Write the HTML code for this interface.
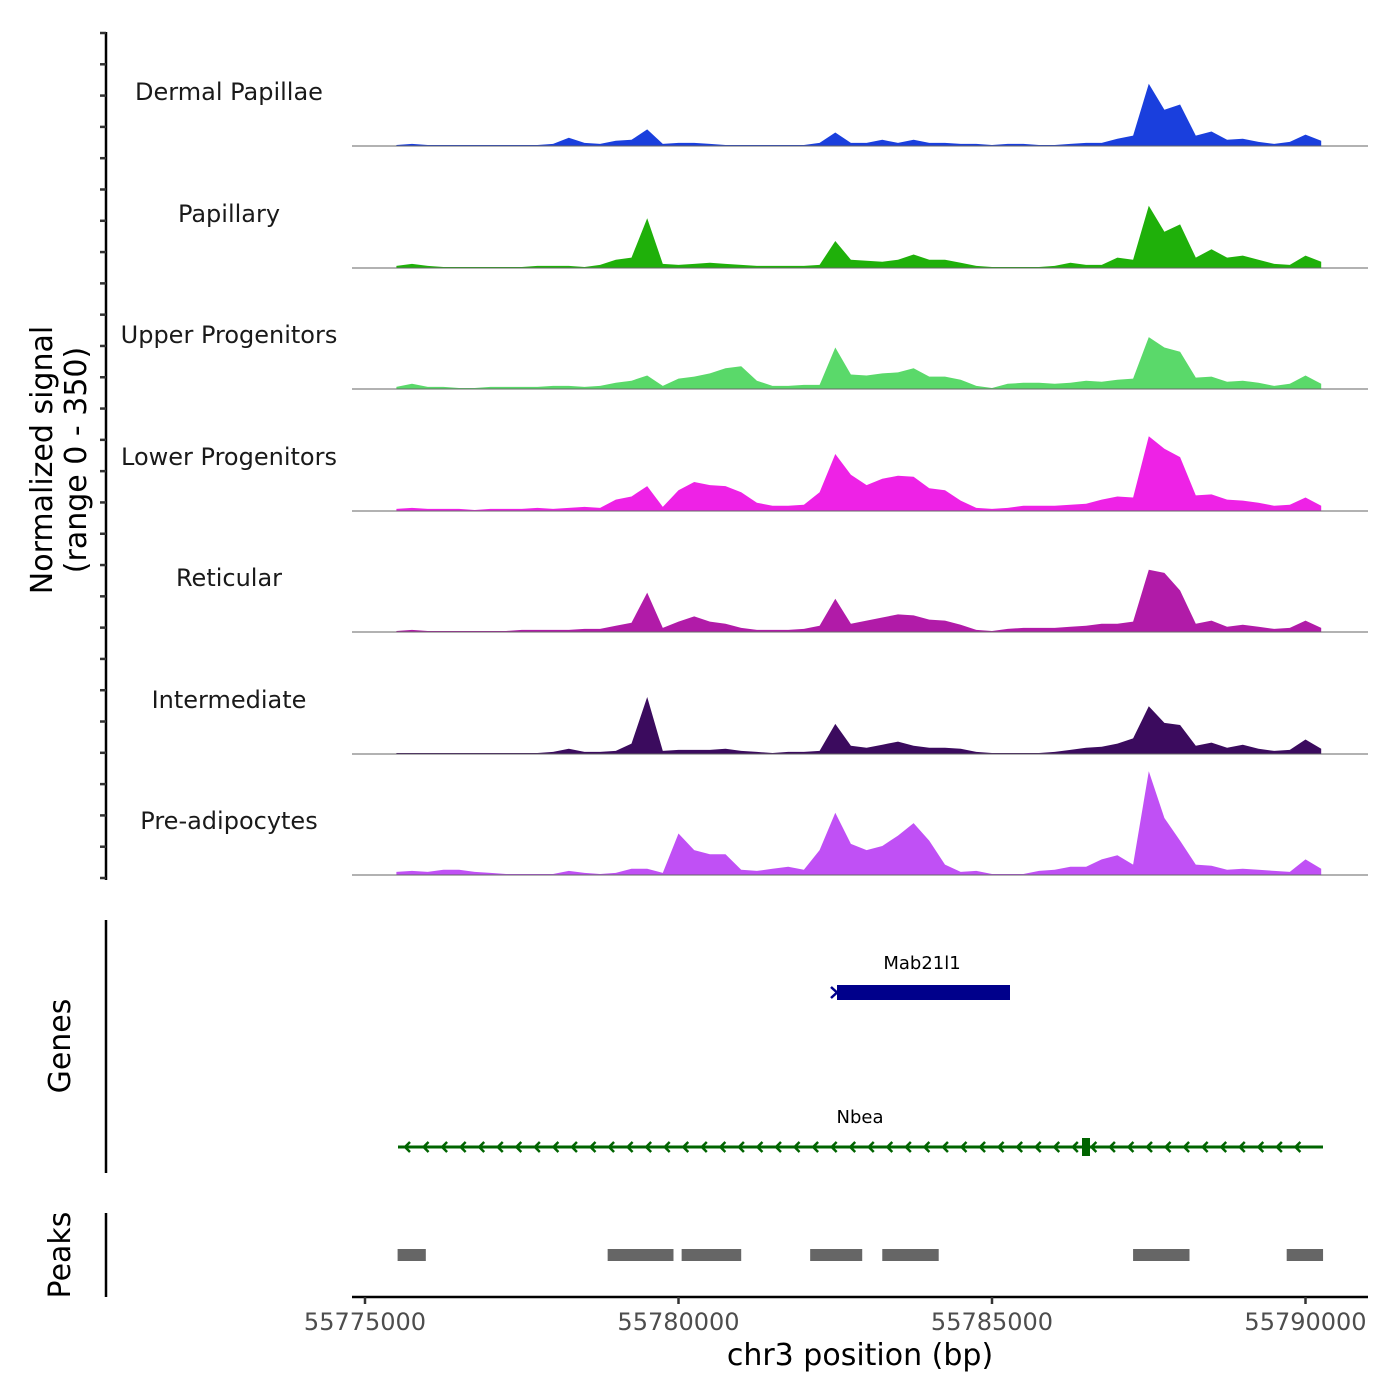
<!DOCTYPE html>
<html><head><meta charset="utf-8"><style>
html,body{margin:0;padding:0;background:#fff;}
svg{display:block;font-family:"DejaVu Sans","Liberation Sans",sans-serif;}
</style></head><body>
<svg id="chart" width="1400" height="1400" viewBox="0 0 1400 1400">
<g id="tracks"></g>
<g id="yaxis">
  <line x1="106" y1="32" x2="106" y2="880" stroke="#000" stroke-width="2.5"/>
</g>
<text transform="translate(52,460) rotate(-90)" text-anchor="middle" font-size="30">Normalized signal</text>
<text transform="translate(86,460) rotate(-90)" text-anchor="middle" font-size="30">(range 0 - 350)</text>

<g>
  <line x1="106" y1="920" x2="106" y2="1173" stroke="#000" stroke-width="2.5"/>
  <text transform="translate(70,1046) rotate(-90)" text-anchor="middle" font-size="30">Genes</text>
  <text x="922" y="969" text-anchor="middle" font-size="18">Mab21l1</text>
  <rect x="837" y="985" width="173" height="15" fill="#00008B"/>
  <polyline points="831,987 837,992.5 831,998" fill="none" stroke="#00008B" stroke-width="2.5"/>
  <text x="860" y="1123" text-anchor="middle" font-size="18">Nbea</text>
  <line x1="398" y1="1147" x2="1323" y2="1147" stroke="#006400" stroke-width="3"/>
  <rect x="1082" y="1138" width="8" height="18" fill="#006400"/>
  <g id="chevrons"></g>
</g>

<g>
  <line x1="106" y1="1213" x2="106" y2="1297" stroke="#000" stroke-width="2.5"/>
  <text transform="translate(70,1255) rotate(-90)" text-anchor="middle" font-size="30">Peaks</text>
  <g id="peaks"></g>
</g>

<g id="xaxis">
  <line x1="352" y1="1297" x2="1368" y2="1297" stroke="#000" stroke-width="2.5"/>
</g>
<text x="860" y="1365" text-anchor="middle" font-size="30">chr3 position (bp)</text>
</svg>
<script>
const xTicks = [55775000, 55780000, 55785000, 55790000];
const trackNames = ["Dermal Papillae","Papillary","Upper Progenitors","Lower Progenitors","Reticular","Intermediate","Pre-adipocytes"];
const trackColors = ["#1a3fdd","#1fb00a","#5ad96a","#ee22e6","#b11ba8","#3b0b5e","#c050f5"];
const binStart = 55775500;
const binSize = 250;
const dermalPapillae = [3,6,3,3,3,3,3,3,3,3,6,24,9,6,15,18,48,6,9,9,6,3,3,3,3,3,3,9,39,9,9,18,9,18,9,9,6,6,3,6,6,3,3,6,9,9,21,30,180,105,120,30,42,18,21,12,6,12,33,15];
const papillary = [6,12,6,3,3,3,3,3,3,6,6,6,3,9,24,30,144,12,9,12,15,12,9,6,6,6,6,9,78,24,21,18,24,39,24,24,15,6,3,3,3,3,6,15,9,9,30,24,180,105,126,30,54,30,36,24,12,9,36,18];
const upperProgenitors = [6,15,6,6,3,3,6,6,6,6,9,9,6,9,18,24,39,9,30,36,45,60,66,24,9,9,12,12,120,42,39,45,48,60,36,36,27,9,3,15,18,18,15,18,24,21,27,30,150,120,108,33,36,21,24,18,9,15,39,15];
const lowerProgenitors = [6,9,6,6,6,3,6,6,6,9,6,9,12,9,33,42,72,12,60,84,75,72,54,24,15,15,18,54,165,105,75,93,102,99,66,60,30,9,6,9,15,15,15,18,21,33,42,39,216,180,156,45,48,33,30,24,15,18,39,15];
const reticular = [3,6,3,3,3,3,3,3,6,6,6,6,9,9,18,27,114,12,30,45,30,24,12,6,6,6,9,18,96,24,33,42,51,48,36,33,21,6,3,9,12,12,12,15,18,24,24,30,180,171,120,24,33,15,21,15,9,12,33,12];
const intermediate = [3,3,3,3,3,3,3,3,3,3,6,15,6,6,9,30,165,9,12,12,12,15,9,6,3,6,6,9,87,24,18,27,36,24,18,18,15,6,3,3,3,3,6,12,18,21,30,45,138,90,84,24,33,18,27,15,9,12,42,15];
const preAdipocytes = [9,12,9,15,15,9,6,3,3,3,3,12,6,3,6,18,18,6,120,72,60,60,15,12,18,24,15,72,180,90,72,84,114,150,99,30,9,12,3,3,3,12,15,24,24,45,57,30,300,165,99,30,27,15,18,15,12,9,45,18];
const peakStarts = [55775520, 55778870, 55780050, 55782100, 55783250, 55787250, 55789700];
const peakEnds = [55775970, 55779920, 55781000, 55782930, 55784150, 55788150, 55790280];

const signals = [dermalPapillae,papillary,upperProgenitors,lowerProgenitors,reticular,intermediate,preAdipocytes];
const NS="http://www.w3.org/2000/svg";
const x = bp => 365 + (bp - 55775000) * (940.5/15000);
const baselines = [146,268,389,511,632,754,875];
const yScale = v => v * (121/350);
function mk(tag, attrs, parent){const e=document.createElementNS(NS,tag);for(const k in attrs)e.setAttribute(k,attrs[k]);parent.appendChild(e);return e;}

const tracks=document.getElementById('tracks');
signals.forEach((vals,t)=>{
  const b=baselines[t];
  const g=mk('g',{},tracks);
  
  
  let d='M'+x(binStart).toFixed(1)+','+b;
  vals.forEach((v,i)=>{d+=' L'+x(binStart+binSize*i).toFixed(1)+','+(b-yScale(v)).toFixed(1);});
  d+=' L'+x(binStart+binSize*(vals.length-1)).toFixed(1)+','+b+' Z';
  const p=mk('path',{d:d,fill:trackColors[t]},g);
  
  
  const l=mk('line',{x1:352,y1:b,x2:1368,y2:b,stroke:'#666','stroke-width':1},g);
  
  
  const tx=mk('text',{x:229,y:b-46,'text-anchor':'middle','font-size':24,fill:'#1a1a1a'},g);
  tx.textContent=trackNames[t];
  
  
});

const yaxis=document.getElementById('yaxis');
for(let i=0;i<28;i++){
  const yy=33+i*(845/27);
  const tk=mk('line',{x1:100,y1:yy,x2:106,y2:yy,stroke:'#333','stroke-width':2.5},yaxis);
  
  
}

const ch=document.getElementById('chevrons');
for(let cx=405;cx<1312;cx+=18.55){
  const c=mk('polyline',{points:(cx+5)+',1142 '+cx+',1147 '+(cx+5)+',1152',fill:'none',stroke:'#006400','stroke-width':2.5},ch);
  
  
}

const pk=document.getElementById('peaks');
peakStarts.forEach((s,i)=>{
  const r=mk('rect',{x:x(s),y:1249,width:x(peakEnds[i])-x(s),height:12,fill:'#666'},pk);
  
  
});

const xa=document.getElementById('xaxis');
xTicks.forEach(v=>{
  const tk=mk('line',{x1:x(v),y1:1297,x2:x(v),y2:1304,stroke:'#333','stroke-width':2.5},xa);
  
  
  const tl=mk('text',{x:x(v),y:1330,'text-anchor':'middle','font-size':24,fill:'#4d4d4d'},xa);
  tl.textContent=v;
  
  
});
</script>
</body></html>
